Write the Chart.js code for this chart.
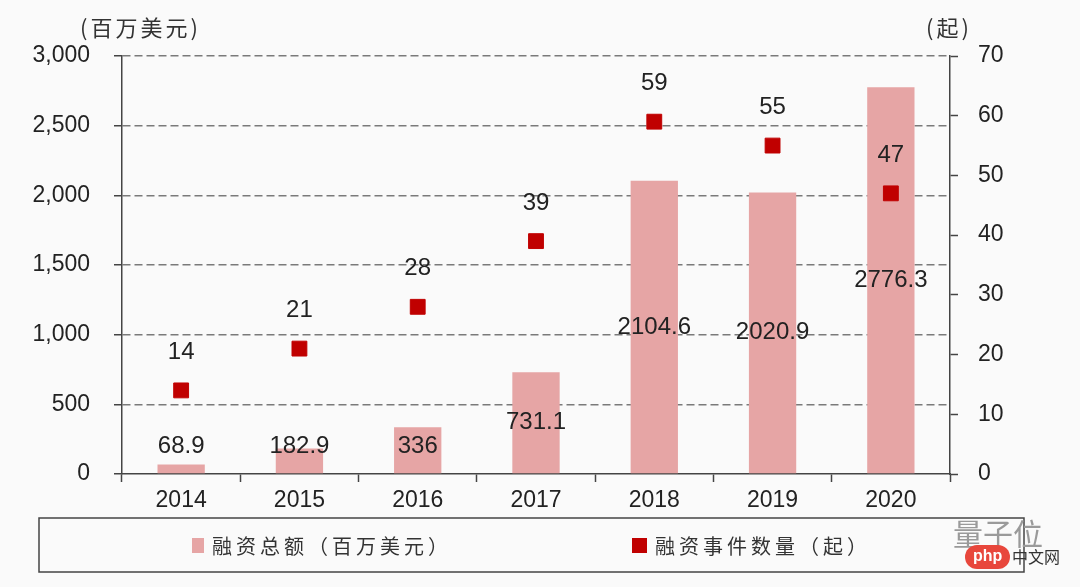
<!DOCTYPE html>
<html>
<head>
<meta charset="utf-8">
<script src="https://cdn.jsdelivr.net/npm/chart.js@4"></script>
<style>
	html, body { margin: 0; padding: 0; background: #fafafa; }
	#wrap { width: 1080px; height: 587px; }
</style>
</head>
<body>
<div id="wrap"><canvas id="myChartFinanciacion"></canvas></div>
<script>
// datos
const years = ["2014", "2015", "2016", "2017", "2018", "2019", "2020"];
const fundingTotal = [68.9, 182.9, 336, 731.1, 2104.6, 2020.9, 2776.3];
const dealCount = [14, 21, 28, 39, 59, 55, 47];
const leftTicks = [0, 500, 1000, 1500, 2000, 2500, 3000];
const rightTicks = [0, 10, 20, 30, 40, 50, 60, 70];
const seriesNames = ["融资总额（百万美元）", "融资事件数量（起）"];
const unitLeft = "(百万美元)";
const unitRight = "(起)";

const numFont = "'Liberation Sans', Arial, sans-serif";
const cjkFont = "'Noto Sans CJK SC', sans-serif";

// etiquetas, unidades y leyenda
const extras = {
	id: "extras",
	afterDatasetsDraw(chart) {
		const ctx = chart.ctx;
		const area = chart.chartArea;
		ctx.save();
		ctx.fillStyle = "#222";
		ctx.font = "24px " + numFont;
		ctx.textAlign = "center";
		ctx.textBaseline = "middle";
		chart.getDatasetMeta(0).data.forEach((bar, i) => {
			const y = Math.min((bar.y + bar.base) / 2, area.bottom - 28);
			ctx.fillText(String(fundingTotal[i]), bar.x, y);
		});
		chart.getDatasetMeta(1).data.forEach((pt, i) => {
			ctx.fillText(String(dealCount[i]), pt.x, pt.y - 38);
		});
		ctx.restore();
	},
	afterDraw(chart) {
		const ctx = chart.ctx;
		ctx.save();
		// unidades
		ctx.fillStyle = "#333";
		ctx.font = "22px " + cjkFont;
		ctx.textBaseline = "middle";
		ctx.textAlign = "left";
		ctx.letterSpacing = "3px";
		ctx.fillText(unitLeft, 80, 28);
		ctx.fillText(unitRight, 926, 28);
		// caja de leyenda
		ctx.letterSpacing = "0px";
		ctx.strokeStyle = "#444";
		ctx.lineWidth = 1.5;
		ctx.strokeRect(39, 518, 985, 54);
		ctx.fillStyle = "#e6a5a5";
		ctx.fillRect(192, 538, 12, 15);
		ctx.fillStyle = "#c00000";
		ctx.fillRect(632, 538, 15, 15);
		ctx.fillStyle = "#333";
		ctx.font = "20px " + cjkFont;
		ctx.letterSpacing = "4px";
		ctx.fillText(seriesNames[0], 212, 546);
		ctx.fillText(seriesNames[1], 655, 546);
		// marca de agua
		ctx.letterSpacing = "0px";
		ctx.fillStyle = "#9a9a9a";
		ctx.font = "30px " + cjkFont;
		ctx.fillText("量子位", 953, 534);
		ctx.fillStyle = "#e8473c";
		ctx.beginPath();
		ctx.roundRect(965, 545, 45, 24, 12);
		ctx.fill();
		ctx.fillStyle = "#fff";
		ctx.font = "bold 16px " + numFont;
		ctx.fillText("php", 973, 557);
		ctx.fillStyle = "#333";
		ctx.font = "16px " + cjkFont;
		ctx.fillText("中文网", 1012, 557);
		ctx.restore();
	}
};

const ctx1 = document.getElementById("myChartFinanciacion");

new Chart(ctx1, {
	data: {
		labels: years,
		datasets: [
			{
				type: "bar",
				label: seriesNames[0],
				data: fundingTotal,
				backgroundColor: "#e6a5a5",
				yAxisID: "y",
				barPercentage: 0.4,
				categoryPercentage: 1,
				order: 2
			},
			{
				type: "line",
				label: seriesNames[1],
				data: dealCount,
				showLine: false,
				pointStyle: "rect",
				pointRadius: 10.5,
				pointHoverRadius: 10.5,
				pointBackgroundColor: "#c00000",
				pointBorderColor: "#c00000",
				yAxisID: "y1",
				order: 1
			}
		]
	},
	options: {
		responsive: true,
		maintainAspectRatio: false,
		animation: false,
		events: [],
		layout: {
			padding: { top: 56, bottom: 73, left: 0, right: 0 }
		},
		plugins: {
			legend: { display: false },
			tooltip: { enabled: false }
		},
		scales: {
			x: {
				afterFit(scale) { scale.height = 40; },
				grid: {
					offset: true,
					drawOnChartArea: false,
					tickLength: 8,
					tickColor: "#444",
					tickWidth: 1.5
				},
				border: { color: "#444", width: 1.5 },
				ticks: {
					color: "#222",
					font: { family: numFont, size: 23 },
					padding: 5
				}
			},
			y: {
				position: "left",
				min: 0,
				max: 3000,
				afterFit(scale) { scale.width = 122; },
				afterBuildTicks(scale) { scale.ticks = leftTicks.map(v => ({ value: v })); },
				grid: {
					color: (c) => (c.tick && c.tick.value === 0 ? "rgba(0,0,0,0)" : "#7a7a7a"),
					lineWidth: 1.5,
					tickLength: 8,
					tickColor: "#444",
					tickBorderDash: [],
					tickWidth: 1.5
				},
				border: { color: "#444", width: 1.5, dash: [8, 4] },
				ticks: {
					color: "#222",
					font: { family: numFont, size: 23 },
					padding: 24,
					callback: (v) => v.toLocaleString("en-US")
				}
			},
			y1: {
				position: "right",
				min: 0,
				max: 70,
				afterFit(scale) { scale.width = 130; },
				afterBuildTicks(scale) { scale.ticks = rightTicks.map(v => ({ value: v })); },
				grid: {
					drawOnChartArea: false,
					tickLength: 8,
					tickColor: "#444",
					tickWidth: 1.5
				},
				border: { color: "#444", width: 1.5 },
				ticks: {
					color: "#222",
					font: { family: numFont, size: 23 },
					padding: 20
				}
			}
		}
	},
	plugins: [extras]
});
</script>
</body>
</html>
